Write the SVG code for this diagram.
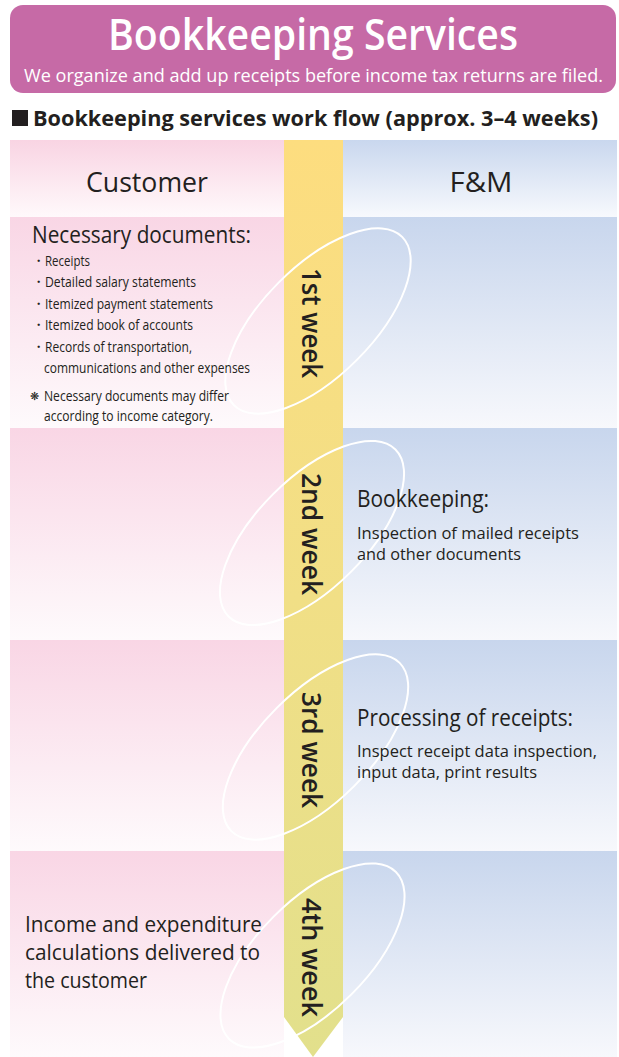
<svg xmlns="http://www.w3.org/2000/svg" width="619" height="1057" viewBox="0 0 619 1057">
  <defs>
    <linearGradient id="pinkHead" x1="0" y1="0" x2="0" y2="1">
      <stop offset="0" stop-color="#f9d4e3"/>
      <stop offset="1" stop-color="#fff9fb"/>
    </linearGradient>
    <linearGradient id="blueHead" x1="0" y1="0" x2="0" y2="1">
      <stop offset="0" stop-color="#c9d7ee"/>
      <stop offset="1" stop-color="#f7f9fd"/>
    </linearGradient>
    <linearGradient id="pinkRow" x1="0" y1="0" x2="0" y2="1">
      <stop offset="0" stop-color="#f9d6e5"/>
      <stop offset="1" stop-color="#fefafc"/>
    </linearGradient>
    <linearGradient id="blueRow" x1="0" y1="0" x2="0" y2="1">
      <stop offset="0" stop-color="#c8d6ed"/>
      <stop offset="1" stop-color="#f7f8fc"/>
    </linearGradient>
    <linearGradient id="band" gradientUnits="userSpaceOnUse" x1="0" y1="140" x2="0" y2="1057">
      <stop offset="0" stop-color="#fddd7f"/>
      <stop offset="0.5" stop-color="#f1df86"/>
      <stop offset="1" stop-color="#e2e08c"/>
    </linearGradient>
  </defs>
  <style>
    text { font-family: "Open Sans", "Liberation Sans", sans-serif; fill: #231f20; }
    .title { font-size: 44px; font-weight: 600; fill: #ffffff; }
    .sub { font-size: 18px; fill: #ffffff; }
    .head { font-size: 21px; font-weight: 700; }
    .lane { font-size: 28px; }
    .h2 { font-size: 23px; }
    .item { font-size: 15px; }
    .body { font-size: 17px; }
    .big { font-size: 22px; }
    .week { font-size: 27px; font-weight: 600; }
    .ring { fill: none; stroke: #ffffff; stroke-width: 2; }
  </style>

  <!-- title banner -->
  <g id="banner">
    <rect x="10" y="5" width="606" height="88" rx="13" fill="#c66aa6"/>
    <text class="title" x="313" y="50" text-anchor="middle" textLength="410" lengthAdjust="spacingAndGlyphs">Bookkeeping Services</text>
    <text class="sub" x="24" y="82" textLength="579" lengthAdjust="spacingAndGlyphs">We organize and add up receipts before income tax returns are filed.</text>
  </g>

  <!-- section heading -->
  <g id="heading">
    <rect x="12" y="110" width="16" height="16" fill="#231f20"/>
    <text class="head" x="33" y="126" textLength="565" lengthAdjust="spacingAndGlyphs">Bookkeeping services work flow (approx. 3–4 weeks)</text>
  </g>

  <!-- lane backgrounds -->
  <g id="lanes">
    <rect x="10" y="140" width="274" height="77" fill="url(#pinkHead)"/>
    <rect x="343" y="140" width="274" height="77" fill="url(#blueHead)"/>
    <rect x="10" y="217" width="274" height="211" fill="url(#pinkRow)"/>
    <rect x="343" y="217" width="274" height="211" fill="url(#blueRow)"/>
    <rect x="10" y="428" width="274" height="212" fill="url(#pinkRow)"/>
    <rect x="343" y="428" width="274" height="212" fill="url(#blueRow)"/>
    <rect x="10" y="640" width="274" height="211" fill="url(#pinkRow)"/>
    <rect x="343" y="640" width="274" height="211" fill="url(#blueRow)"/>
    <rect x="10" y="851" width="274" height="206" fill="url(#pinkRow)"/>
    <rect x="343" y="851" width="274" height="206" fill="url(#blueRow)"/>
    <text class="lane" x="147" y="192" text-anchor="middle" textLength="122" lengthAdjust="spacingAndGlyphs">Customer</text>
    <text class="lane" x="481" y="192" text-anchor="middle" textLength="63" lengthAdjust="spacingAndGlyphs">F&amp;M</text>
  </g>

  <!-- timeline arrow -->
  <g id="timeline">
    <polygon points="284,140 343,140 343,1017 313,1057 284,1017" fill="url(#band)"/>
  </g>

  <!-- week highlight rings -->
  <g id="rings">
    <ellipse class="ring" cx="318" cy="321" rx="119" ry="55" transform="rotate(-45 318 321)"/>
    <ellipse class="ring" cx="312" cy="533" rx="118" ry="55" transform="rotate(-45 312 533)"/>
    <ellipse class="ring" cx="315.5" cy="747" rx="119" ry="55" transform="rotate(-45 315.5 747)"/>
    <ellipse class="ring" cx="312.5" cy="955.5" rx="118" ry="55" transform="rotate(-45 312.5 955.5)"/>
  </g>

  <!-- week 1 -->
  <g id="week1">
    <text class="week" transform="translate(302 323) rotate(90)" text-anchor="middle" textLength="110" lengthAdjust="spacingAndGlyphs">1st week</text>
    <text class="h2" x="32" y="243" textLength="219" lengthAdjust="spacingAndGlyphs">Necessary documents:</text>
    <g class="item">
      <text x="31" y="266">・</text>
      <text x="45" y="266" textLength="45" lengthAdjust="spacingAndGlyphs">Receipts</text>
      <text x="31" y="287">・</text>
      <text x="45" y="287" textLength="151" lengthAdjust="spacingAndGlyphs">Detailed salary statements</text>
      <text x="31" y="309">・</text>
      <text x="45" y="309" textLength="168" lengthAdjust="spacingAndGlyphs">Itemized payment statements</text>
      <text x="31" y="330">・</text>
      <text x="45" y="330" textLength="148" lengthAdjust="spacingAndGlyphs">Itemized book of accounts</text>
      <text x="31" y="352">・</text>
      <text x="45" y="352" textLength="147" lengthAdjust="spacingAndGlyphs">Records of transportation,</text>
      <text x="44" y="373" textLength="206" lengthAdjust="spacingAndGlyphs">communications and other expenses</text>
      <text x="30" y="400" style="font-size:11px; font-family:'DejaVu Sans', sans-serif">❋</text>
      <text x="44" y="401" textLength="185" lengthAdjust="spacingAndGlyphs">Necessary documents may differ</text>
      <text x="44" y="421" textLength="169" lengthAdjust="spacingAndGlyphs">according to income category.</text>
    </g>
  </g>

  <!-- week 2 -->
  <g id="week2">
    <text class="week" transform="translate(302 534) rotate(90)" text-anchor="middle" textLength="122" lengthAdjust="spacingAndGlyphs">2nd week</text>
    <text class="h2" x="357" y="507" textLength="132" lengthAdjust="spacingAndGlyphs">Bookkeeping:</text>
    <text class="body" x="357" y="539" textLength="222" lengthAdjust="spacingAndGlyphs">Inspection of mailed receipts</text>
    <text class="body" x="357" y="560" textLength="164" lengthAdjust="spacingAndGlyphs">and other documents</text>
  </g>

  <!-- week 3 -->
  <g id="week3">
    <text class="week" transform="translate(302 750) rotate(90)" text-anchor="middle" textLength="116" lengthAdjust="spacingAndGlyphs">3rd week</text>
    <text class="h2" x="357" y="726" textLength="216" lengthAdjust="spacingAndGlyphs">Processing of receipts:</text>
    <text class="body" x="357" y="757" textLength="240" lengthAdjust="spacingAndGlyphs">Inspect receipt data inspection,</text>
    <text class="body" x="357" y="778" textLength="180" lengthAdjust="spacingAndGlyphs">input data, print results</text>
  </g>

  <!-- week 4 -->
  <g id="week4">
    <text class="week" transform="translate(302 957.5) rotate(90)" text-anchor="middle" textLength="119" lengthAdjust="spacingAndGlyphs">4th week</text>
    <text class="big" x="25" y="932" textLength="237" lengthAdjust="spacingAndGlyphs">Income and expenditure</text>
    <text class="big" x="25" y="960" textLength="235" lengthAdjust="spacingAndGlyphs">calculations delivered to</text>
    <text class="big" x="25" y="988" textLength="122" lengthAdjust="spacingAndGlyphs">the customer</text>
  </g>
</svg>
